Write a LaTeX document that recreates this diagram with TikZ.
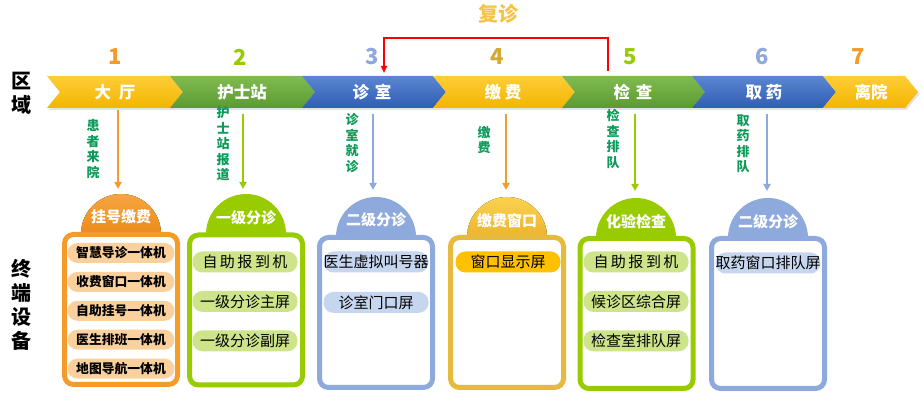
\documentclass[tikz,border=0pt]{standalone}
\usepackage{fontspec}
\setmainfont{Noto Sans CJK SC}
\usetikzlibrary{arrows.meta,positioning,shadows}
\definecolor{sunTop}{HTML}{FFCD38}
\definecolor{sunBot}{HTML}{F2B500}
\definecolor{leafTop}{HTML}{80BB4F}
\definecolor{leafBot}{HTML}{5B9A33}
\definecolor{seaTop}{HTML}{5B86D2}
\definecolor{seaBot}{HTML}{2F5DB3}
\definecolor{orangeline}{HTML}{F39C2C}
\definecolor{orangeTop}{HTML}{F7A540}
\definecolor{orangeBot}{HTML}{EC8C1C}
\definecolor{limeline}{HTML}{99CC00}
\definecolor{skyline}{HTML}{8EA9DB}
\definecolor{goldnum}{HTML}{D4A936}
\definecolor{goldTop}{HTML}{FBD24E}
\definecolor{goldBot}{HTML}{EBB430}
\definecolor{goldline}{HTML}{E6BA3C}
\definecolor{revisitgold}{HTML}{F6C445}
\definecolor{labelgreen}{HTML}{0C9A58}
\definecolor{peach}{HTML}{FAD19D}
\definecolor{limepale}{HTML}{CDE48A}
\definecolor{skypale}{HTML}{C7D6EF}
\definecolor{amber}{HTML}{FFC000}
\tikzset{
  chev/.style      = {drop shadow={opacity=0.22, shadow xshift=1.5pt, shadow yshift=-2pt}},
  zonetext/.style  = {text=white, inner sep=0pt, font=\fontsize{16.5}{16.5}\selectfont\bfseries},
  stepnum/.style   = {inner sep=0pt, font=\fontsize{22}{22}\selectfont\bfseries},
  vlabel/.style    = {text=labelgreen, align=center, inner sep=0pt,
                      font=\fontsize{13}{15.5}\selectfont\bfseries},
  sidelabel/.style = {align=center, inner sep=0pt, font=\fontsize{20}{24}\selectfont\bfseries},
  cardbox/.style   = {line width=5pt, rounded corners=9pt, fill=white,
                      minimum width=113pt, minimum height=150pt},
  domehead/.style  = {text=white, inner sep=0pt, font=\fontsize{15}{15}\selectfont\bfseries},
  pill/.style      = {rounded corners=10pt, minimum width=105pt, minimum height=21pt,
                      inner sep=0pt, font=\fontsize{15}{15}\selectfont},
  pillbold/.style  = {pill, minimum width=107pt, minimum height=20pt,
                      font=\fontsize{12.8}{12.8}\selectfont\bfseries},
  feed/.style      = {-{Triangle[length=7pt,width=7pt]}, line width=2.5pt},
  revisit/.style   = {-{Triangle[length=7pt,width=6pt]}, draw=red, line width=2.8pt},
}
\begin{document}
\begin{tikzpicture}[x=1pt,y=-1pt]
  \fill[white] (0,0) rectangle (922,411);

  \node[font=\fontsize{20}{20}\selectfont\bfseries, text=revisitgold, inner sep=0pt] (fz) at (498,14) {复诊};
  \coordinate (rs) at (608,71);
  \coordinate (re) at (384,73);
  \draw[revisit] (rs) -- ++(0,-33) -| (re);

  \node[sidelabel] (qy) at (22,93) {区\\域};
  \node[sidelabel] (zd) at (22,305) {终\\端\\设\\备};

  \path[chev, top color=sunTop, bottom color=sunBot] (47,76) -- (170,76) -- (183,92) -- (170,108) -- (47,108) -- (60,92) -- cycle;
  \path[chev, top color=leafTop, bottom color=leafBot] (170,76) -- (302,76) -- (315,92) -- (302,108) -- (170,108) -- (183,92) -- cycle;
  \path[chev, top color=seaTop, bottom color=seaBot] (302,76) -- (433,76) -- (446,92) -- (433,108) -- (302,108) -- (315,92) -- cycle;
  \path[chev, top color=sunTop, bottom color=sunBot] (433,76) -- (562,76) -- (575,92) -- (562,108) -- (433,108) -- (446,92) -- cycle;
  \path[chev, top color=leafTop, bottom color=leafBot] (562,76) -- (692,76) -- (705,92) -- (692,108) -- (562,108) -- (575,92) -- cycle;
  \path[chev, top color=seaTop, bottom color=seaBot] (692,76) -- (823,76) -- (836,92) -- (823,108) -- (692,108) -- (705,92) -- cycle;
  \path[chev, top color=sunTop, bottom color=sunBot] (823,76) -- (905,76) -- (918,92) -- (905,108) -- (823,108) -- (836,92) -- cycle;

  \node[zonetext] (z1) at (115,92) {大\hspace{8pt}厅};
  \node[zonetext] (z2) at (242,92) {护士站};
  \node[zonetext] (z3) at (372,92) {诊\hspace{6pt}室};
  \node[zonetext] (z4) at (503,92) {缴\hspace{4pt}费};
  \node[zonetext] (z5) at (633,92) {检\hspace{6pt}查};
  \node[zonetext] (z6) at (764,92) {取\hspace{4pt}药};
  \node[zonetext] (z7) at (871,92) {离院};

  \node[stepnum, text=orangeline] (n1) at (115,57) {1};
  \node[stepnum, text=limeline] (n2) at (240,57) {2};
  \node[stepnum, text=skyline] (n3) at (372,57) {3};
  \node[stepnum, text=goldnum] (n4) at (497,57) {4};
  \node[stepnum, text=limeline] (n5) at (630,57) {5};
  \node[stepnum, text=skyline] (n6) at (762,57) {6};
  \node[stepnum, text=orangeline] (n7) at (858,57) {7};

  \node[vlabel] (l1) at (93,149) {患\\者\\来\\院};
  \node[vlabel] (l2) at (223,144) {护\\士\\站\\报\\道};
  \node[vlabel] (l3) at (352,143) {诊\\室\\就\\诊};
  \node[vlabel] (l4) at (484,140) {缴\\费};
  \node[vlabel] (l5) at (613,139) {检\\查\\排\\队};
  \node[vlabel] (l6) at (743,144) {取\\药\\排\\队};

  \coordinate (a1) at (118,110); \coordinate (e1) at (118,189);
  \coordinate (a2) at (243,114); \coordinate (e2) at (243,189);
  \coordinate (a3) at (373,114); \coordinate (e3) at (373,190);
  \coordinate (a4) at (506,114); \coordinate (e4) at (506,190);
  \coordinate (a5) at (635,114); \coordinate (e5) at (635,191);
  \coordinate (a6) at (767,114); \coordinate (e6) at (767,191);
  \draw[feed, draw=orangeline] (a1) -- (e1);
  \draw[feed, draw=limeline] (a2) -- (e2);
  \draw[feed, draw=skyline] (a3) -- (e3);
  \draw[feed, draw=orangeline] (a4) -- (e4);
  \draw[feed, draw=limeline] (a5) -- (e5);
  \draw[feed, draw=skyline] (a6) -- (e6);

  \fill[top color=orangeTop, bottom color=orangeBot] (81,234) arc[start angle=180, end angle=360, radius=40] -- cycle;
  \fill[limeline] (206,234) arc[start angle=180, end angle=360, radius=40] -- cycle;
  \fill[skyline] (336,237) arc[start angle=180, end angle=360, radius=40] -- cycle;
  \fill[top color=goldTop, bottom color=goldBot] (467,237) arc[start angle=180, end angle=360, radius=40] -- cycle;
  \fill[limeline] (596,238) arc[start angle=180, end angle=360, radius=40] -- cycle;
  \fill[skyline] (728,238) arc[start angle=180, end angle=360, radius=40] -- cycle;

  \node[cardbox, draw=orangeline] (b1) at (121,309.5) {};
  \node[cardbox, draw=limeline] (b2) at (246,310) {};
  \node[cardbox, draw=skyline] (b3) at (376,312.5) {};
  \node[cardbox, draw=goldline] (b4) at (507,312.5) {};
  \node[cardbox, draw=limeline] (b5) at (636.5,313.5) {};
  \node[cardbox, draw=skyline] (b6) at (768,313.5) {};

  \node[domehead] (h1) at (121,217) {挂号缴费};
  \node[domehead] (h2) at (246,218) {一级分诊};
  \node[domehead] (h3) at (376,220) {二级分诊};
  \node[domehead] (h4) at (507,221) {缴费窗口};
  \node[domehead] (h5) at (636,222) {化验检查};
  \node[domehead] (h6) at (768,222) {二级分诊};

  \node[pillbold, fill=peach] (p11) at (121,253) {智慧导诊一体机};
  \node[pillbold, fill=peach, below=8.5pt of p11] (p12) {收费窗口一体机};
  \node[pillbold, fill=peach, below=8.5pt of p12] (p13) {自助挂号一体机};
  \node[pillbold, fill=peach, below=8.5pt of p13] (p14) {医生排班一体机};
  \node[pillbold, fill=peach, below=8.5pt of p14] (p15) {地图导航一体机};

  \node[pill, fill=limepale] (p21) at (245,262) {自\,助\,报\,到\,机};
  \node[pill, fill=limepale, below=18pt of p21] (p22) {一级分诊主屏};
  \node[pill, fill=limepale, below=18pt of p22] (p23) {一级分诊副屏};

  \node[pill, fill=skypale] (p31) at (376,262) {医生虚拟叫号器};
  \node[pill, fill=skypale, below=19pt of p31] (p32) {诊室门口屏};

  \node[pill, fill=amber] (p41) at (508,262) {窗口显示屏};

  \node[pill, fill=limepale] (p51) at (636,262) {自\,助\,报\,到\,机};
  \node[pill, fill=limepale, below=18pt of p51] (p52) {候诊区综合屏};
  \node[pill, fill=limepale, below=18pt of p52] (p53) {检查室排队屏};

  \node[pill, fill=skypale] (p61) at (768,263) {取药窗口排队屏};
\end{tikzpicture}
\end{document}
